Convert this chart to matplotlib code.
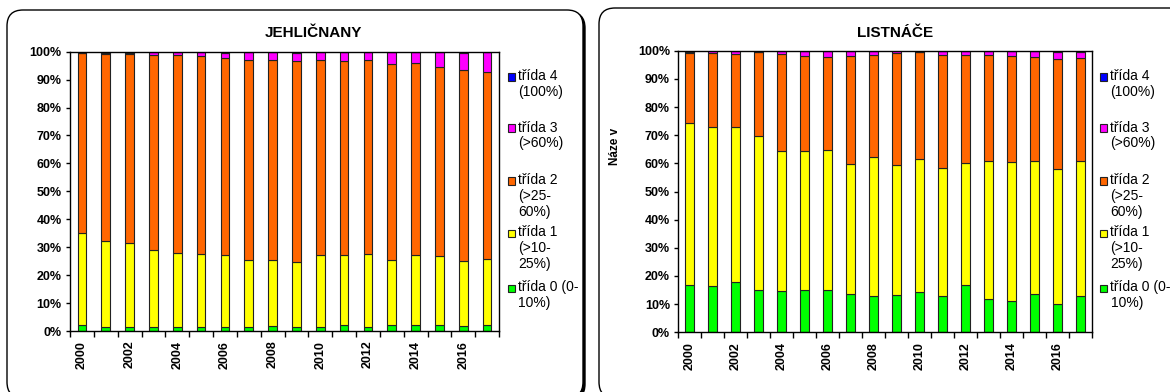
import matplotlib
matplotlib.use('Agg')
import matplotlib.pyplot as plt
import numpy as np
from matplotlib.patches import FancyBboxPatch, Rectangle

# Podíly tříd defoliace (%) v letech 2000-2017
roky = list(range(2000, 2018))
tridy = ['třída 0 (0-\n10%)', 'třída 1\n(>10-\n25%)', 'třída 2\n(>25-\n60%)',
         'třída 3\n(>60%)', 'třída 4\n(100%)']
barvy = ['#00FF00', '#FFFF00', '#FF6600', '#FF00FF', '#0000FF']

# Jehličnany
jehl_0 = [2.1, 1.4, 1.4, 1.4, 1.4, 1.4, 1.4, 1.4, 1.8, 1.4, 1.4, 2.3, 1.4, 2.3, 2.3, 2.3, 1.9, 2.3]
jehl_1 = [32.9, 30.9, 30.0, 27.5, 26.5, 26.0, 25.7, 24.0, 23.7, 23.2, 25.7, 24.8, 26.0, 23.1, 24.8, 24.4, 23.1, 23.4]
jehl_2 = [64.4, 66.7, 67.6, 69.8, 70.8, 70.9, 70.5, 71.8, 71.4, 72.0, 70.1, 69.5, 69.6, 70.2, 68.8, 67.9, 68.3, 67.2]
jehl_3 = [0.2, 0.7, 0.7, 1.1, 1.2, 1.6, 1.8, 2.7, 3.0, 2.8, 2.7, 3.3, 2.9, 4.3, 4.0, 5.3, 6.2, 6.9]
jehl_4 = [0.4, 0.3, 0.3, 0.2, 0.1, 0.1, 0.6, 0.1, 0.1, 0.6, 0.1, 0.1, 0.1, 0.1, 0.1, 0.1, 0.5, 0.2]

# Listnáče
list_0 = [16.7, 16.3, 17.8, 14.9, 14.7, 14.9, 14.9, 13.5, 12.9, 13.2, 14.3, 12.9, 16.7, 11.9, 11.2, 13.6, 10.2, 12.9]
list_1 = [57.7, 56.7, 55.2, 54.8, 49.6, 49.4, 49.9, 46.4, 49.4, 46.1, 47.1, 45.6, 43.5, 48.9, 49.3, 47.2, 47.9, 47.9]
list_2 = [24.7, 26.1, 25.7, 29.9, 34.4, 33.7, 32.9, 38.1, 36.1, 39.8, 38.0, 39.9, 38.2, 37.6, 37.6, 36.9, 38.8, 36.6]
list_3 = [0.6, 0.7, 1.1, 0.1, 1.2, 1.9, 2.2, 1.9, 1.5, 0.8, 0.1, 1.5, 1.4, 1.5, 1.8, 2.1, 2.7, 2.1]
list_4 = [0.3, 0.2, 0.2, 0.3, 0.1, 0.1, 0.1, 0.1, 0.1, 0.1, 0.5, 0.1, 0.2, 0.1, 0.1, 0.2, 0.4, 0.5]

plt.rcParams['font.family'] = ['Liberation Sans', 'DejaVu Sans']

W, H = 1170, 392
fig = plt.figure(figsize=(W / 100, H / 100), dpi=100)


def ramecek(x0, y0, x1, y1, stin=False):
    # zaoblený rámeček grafu, souřadnice v pixelech od levého horního rohu
    if stin:
        s = FancyBboxPatch(((x0 + 2) / 100, (H - y1 - 2) / 100), (x1 - x0) / 100, (y1 - y0) / 100,
                           boxstyle='round,pad=0,rounding_size=0.16', transform=fig.dpi_scale_trans,
                           fc='black', ec='black', lw=1, zorder=-3)
        fig.add_artist(s)
    p = FancyBboxPatch((x0 / 100, (H - y1) / 100), (x1 - x0) / 100, (y1 - y0) / 100,
                       boxstyle='round,pad=0,rounding_size=0.16', transform=fig.dpi_scale_trans,
                       fc='white', ec='black', lw=1, zorder=-2)
    fig.add_artist(p)


def graf(rect, data, sirka):
    ax = fig.add_axes(rect)
    x = np.arange(len(roky))
    dno = np.zeros(len(roky))
    for hodnoty, barva in zip(data, barvy):
        ax.bar(x, hodnoty, sirka, bottom=dno, color=barva, edgecolor='#222222', linewidth=0.8)
        dno += np.array(hodnoty)
    ax.set_xlim(-0.5, len(roky) - 0.5)
    ax.set_ylim(0, 100)
    ax.set_yticks(range(0, 101, 10))
    ax.set_yticklabels([f'{v}%' for v in range(0, 101, 10)], fontweight='bold', fontsize=9)
    ax.set_xticks(x[::2])
    ax.set_xticklabels(roky[::2], rotation=90, fontweight='bold', fontsize=9)
    ax.set_xticks(np.arange(-0.5, len(roky), 1), minor=True)
    ax.tick_params(axis='x', which='major', length=0, pad=7)
    ax.tick_params(axis='x', which='minor', length=4, direction='out', width=1)
    ax.tick_params(axis='y', length=3, direction='out', pad=3, width=1)
    for sp in ax.spines.values():
        sp.set_linewidth(1)
        sp.set_color('black')
    return ax


def legenda(x_box, x_txt):
    ys = [77, 128, 181, 233, 288]
    for popis, barva, y in zip(tridy[::-1], barvy[::-1], ys):
        fig.add_artist(Rectangle((x_box / W, 1 - (y + 3.5) / H), 7 / W, 7 / H,
                                 transform=fig.transFigure, fc=barva, ec='#222222', lw=0.8))
        fig.text(x_txt / W, 1 - (y - 7.5) / H, popis, ha='left', va='top',
                 fontsize=10, linespacing=1.15)


ramecek(7, 10, 583, 398, stin=True)
ramecek(599, 8, 1185, 398)

graf([70 / W, 1 - 331 / H, 429 / W, 279.3 / H],
     [jehl_0, jehl_1, jehl_2, jehl_3, jehl_4], 0.37)
ax2 = graf([678.3 / W, 1 - 332.3 / H, 413.4 / W, 281.6 / H],
           [list_0, list_1, list_2, list_3, list_4], 0.4)

fig.text(313 / W, 1 - 33 / H, 'JEHLIČNANY', ha='center', va='center', fontsize=11, fontweight='bold')
fig.text(895 / W, 1 - 33 / H, 'LISTNÁČE', ha='center', va='center', fontsize=11, fontweight='bold')
fig.text(615 / W, 1 - 146 / H, 'Náze v', ha='center', va='center', rotation=90,
         fontsize=8.5, fontweight='bold')

legenda(507.5, 518)
legenda(1099.5, 1110.5)

fig.savefig('out.png', dpi=100)
